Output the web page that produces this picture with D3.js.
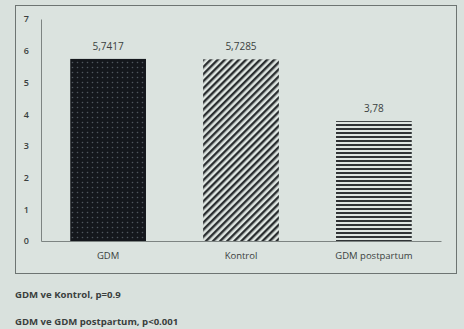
<!DOCTYPE html>
<html>
<head>
<meta charset="utf-8">
<script src="https://cdn.jsdelivr.net/npm/d3@7"></script>
<style>
  body { margin: 0; background: #d9e1dd; }
  svg { display: block; }
  text { font-family: "Open Sans", "DejaVu Sans", sans-serif; fill: #3a3f3e; }
</style>
</head>
<body>
<svg id="chart" width="464" height="329"></svg>
<script>
var categories = ["GDM", "Kontrol", "GDM postpartum"];
var values = [5.7417, 5.7285, 3.78];
var valueLabels = ["5,7417", "5,7285", "3,78"];
var yTicks = [0, 1, 2, 3, 4, 5, 6, 7];
var notes = ["GDM ve Kontrol, p=0.9", "GDM ve GDM postpartum, p<0.001"];

var ctx = {
    w: 464, h: 329,
    left: 41, right: 441, top: 19, bottom: 241
};

var svgEl = d3.select("#chart");
var defs = svgEl.append("defs");

// dotted dark fill
var dots = defs.append("pattern").attr("id", "pDots")
    .attr("patternUnits", "userSpaceOnUse").attr("width", 5).attr("height", 5);
dots.append("rect").attr("width", 5).attr("height", 5).attr("fill", "#14171c");
dots.append("circle").attr("cx", 2.5).attr("cy", 2.5).attr("r", 0.8).attr("fill", "#4f565d");

// diagonal stripes
var diag = defs.append("pattern").attr("id", "pDiag")
    .attr("patternUnits", "userSpaceOnUse").attr("width", 5).attr("height", 5)
    .attr("patternTransform", "rotate(45)");
diag.append("rect").attr("width", 5).attr("height", 5).attr("fill", "#dfe6e2");
diag.append("rect").attr("width", 2.4).attr("height", 5).attr("fill", "#2a2e30");

// horizontal stripes
var horiz = defs.append("pattern").attr("id", "pHoriz")
    .attr("patternUnits", "userSpaceOnUse").attr("width", 4).attr("height", 4);
horiz.append("rect").attr("width", 4).attr("height", 4).attr("fill", "#dfe6e2");
horiz.append("rect").attr("width", 4).attr("height", 2).attr("fill", "#2f3335");

var fills = ["url(#pDots)", "url(#pDiag)", "url(#pHoriz)"];

// outer frame
svgEl.append("rect")
    .attr("x", 15.5).attr("y", 5.5).attr("width", 441).attr("height", 268)
    .attr("fill", "#dbe3df").attr("stroke", "#6d7472").attr("stroke-width", 1);

var x = d3.scaleBand().domain(categories)
    .range([ctx.left, ctx.right]).paddingInner(0.43).paddingOuter(0.22);
var y = d3.scaleLinear().domain([0, 7]).range([ctx.bottom, ctx.top]);

// y axis
var yAxis = svgEl.append("g")
    .attr("transform", "translate(" + ctx.left + ",0)")
    .call(d3.axisLeft(y).tickValues(yTicks).tickFormat(d3.format("d")).tickSize(0).tickPadding(12));
yAxis.select(".domain").attr("stroke", "#7d8482");
yAxis.selectAll("text").attr("font-size", "9px").attr("font-weight", "600").attr("fill", "#4a504e");

// bars
svgEl.selectAll("rect.bar")
    .data(values)
    .enter()
    .append("rect")
    .attr("class", "bar")
    .attr("x", (d, i) => x(categories[i]))
    .attr("y", (d) => y(d))
    .attr("width", x.bandwidth())
    .attr("height", (d) => y(0) - y(d))
    .attr("fill", (d, i) => fills[i]);

// x axis
var xAxis = svgEl.append("g")
    .attr("transform", "translate(0," + ctx.bottom + ")")
    .call(d3.axisBottom(x).tickSize(0).tickPadding(11).tickSizeOuter(0));
xAxis.select(".domain").attr("stroke", "#7d8482");
xAxis.selectAll("text").attr("font-size", "9.5px").attr("fill", "#4a504e");

// value labels
svgEl.selectAll("text.val")
    .data(values)
    .enter()
    .append("text")
    .attr("class", "val")
    .attr("x", (d, i) => x(categories[i]) + x.bandwidth() / 2)
    .attr("y", (d) => y(d) - 9)
    .attr("text-anchor", "middle")
    .attr("font-size", "10px")
    .attr("fill", "#4a504e")
    .text((d, i) => valueLabels[i]);

// footnotes
svgEl.selectAll("text.note")
    .data(notes)
    .enter()
    .append("text")
    .attr("class", "note")
    .attr("x", 15)
    .attr("y", (d, i) => 298 + i * 27)
    .attr("font-size", "9.6px")
    .attr("font-weight", "bold")
    .attr("fill", "#1e2322")
    .text((d) => d);
</script>
</body>
</html>
